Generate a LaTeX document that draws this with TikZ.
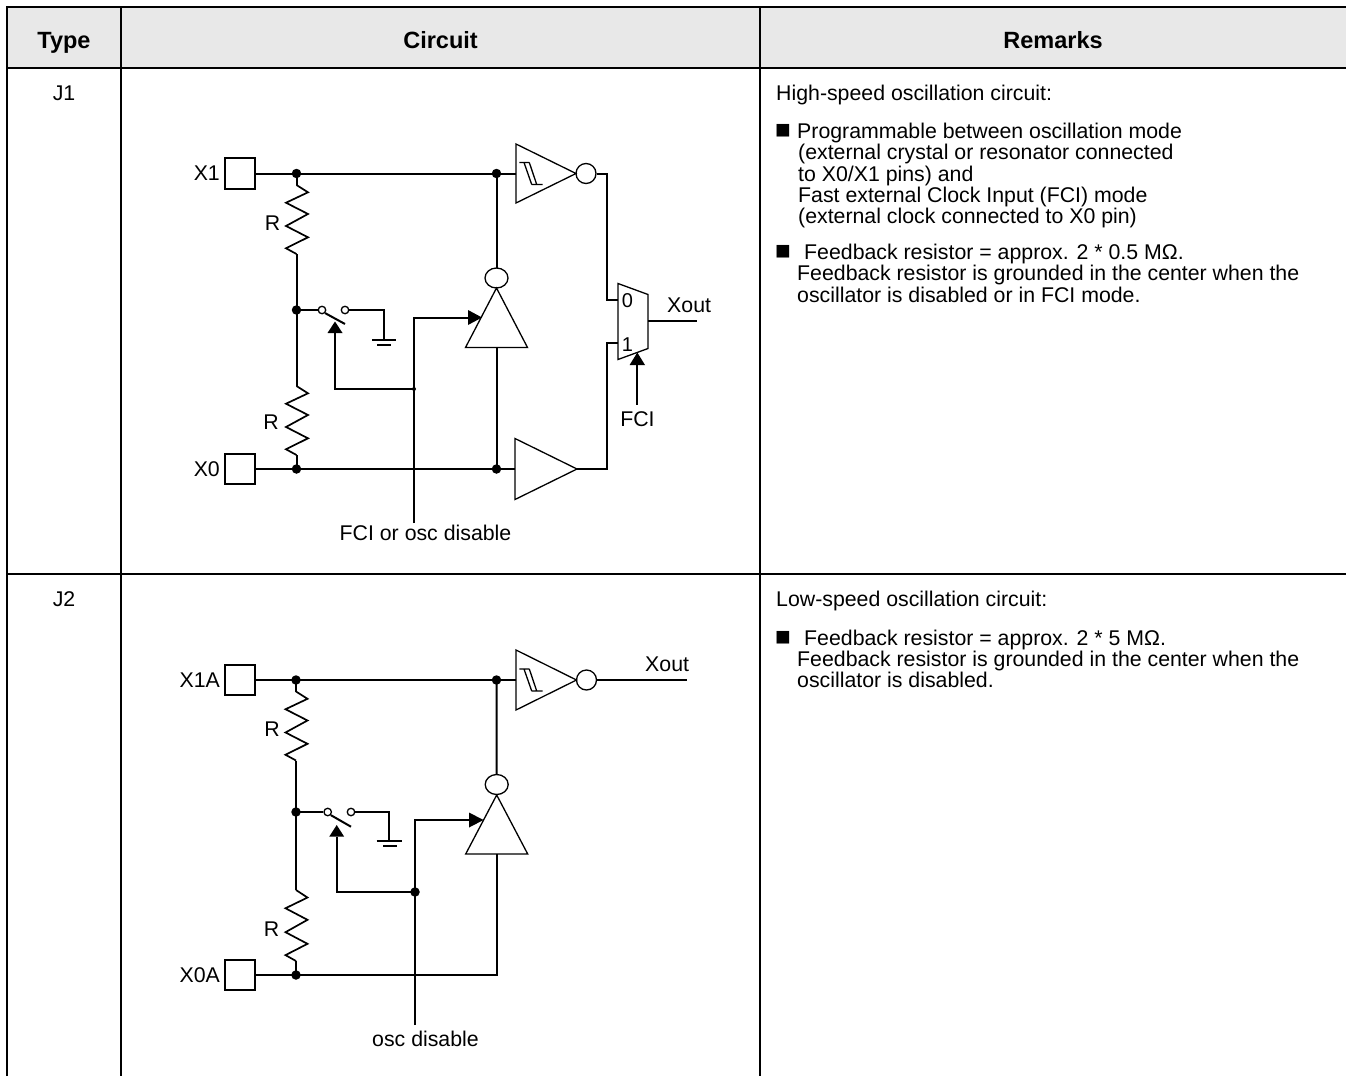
\documentclass[tikz,border=0pt]{standalone}
\usepackage{fontspec}
\setmainfont{Liberation Sans}
\newcommand\bodyfs{\fontsize{21.3}{21.5}\selectfont}
\newcommand\bulfs{\fontsize{26}{26}\selectfont}
\newcommand\headfs{\fontsize{23.5}{25}\selectfont\bfseries}
\newcommand\muxfs{\fontsize{20}{20}\selectfont}
\tikzset{
  tab/.style={line width=2.5pt},
  wire/.style={line width=2pt},
  gate/.style={line width=1.3pt},
  zig/.style={line width=1.7pt,line join=miter},
  dotn/.style={circle,fill,inner sep=0pt,minimum size=9.5pt},
  sdotn/.style={circle,fill,inner sep=0pt,minimum size=4pt},
  pad/.style={draw,line width=1.6pt,inner sep=0pt,minimum size=30.5pt},
  contact/.style={circle,draw,fill=white,line width=1.3pt,inner sep=0pt,minimum size=7.5pt},
  bub/.style={circle,draw,line width=1.3pt,inner sep=0pt,minimum size=20pt},
  txt/.style={font=\bodyfs,inner sep=0pt},
  bul/.style={font=\bulfs,inner sep=0pt},
  hdr/.style={font=\headfs,inner sep=0pt},
}
% resistor zigzag: x, ytop, length
\newcommand\resist[3]{%
  \draw[zig] (#1,#2) -- ({#1+11.5},{#2+0.106*#3}) -- ({#1-10.5},{#2+0.257*#3})
   -- ({#1+11.5},{#2+0.42*#3}) -- ({#1-10.5},{#2+0.594*#3})
   -- ({#1+11.5},{#2+0.758*#3}) -- ({#1-10.5},{#2+0.917*#3}) -- (#1,{#2+#3});}
% schmitt symbol at input x, wire y
\newcommand\schmitt[2]{%
  \draw[gate] ({#1+3.3},{#2-11}) -- ({#1+13.3},{#2-11})
   ({#1+8},{#2-11}) -- ({#1+15.7},{#2+11})
   ({#1+13.3},{#2-11}) -- ({#1+20.7},{#2+11})
   ({#1+15.7},{#2+11}) -- ({#1+26.7},{#2+11});}
\begin{document}
\begin{tikzpicture}[x=1pt,y=-1pt]
\useasboundingbox (0,0) rectangle (1346,1076);
% ---------------- table ----------------
\fill[gray!18] (7,7) rectangle (1346,68);
\draw[tab] (7,1076) -- (7,7) -- (1346,7);
\draw[tab] (7,68) -- (1346,68);
\draw[tab] (7,574) -- (1346,574);
\draw[tab] (121,7) -- (121,1076);
\draw[tab] (760,7) -- (760,1076);
\node[hdr,anchor=base] (hType) at (64,48.5) {Type};
\node[hdr,anchor=base] (hCirc) at (440.5,48.5) {Circuit};
\node[hdr,anchor=base] (hRem) at (1053,48.5) {Remarks};
\node[txt,anchor=base] (tJ1) at (64,100) {J1};
\node[txt,anchor=base] (tJ2) at (64,606) {J2};
% ---------------- remarks ----------------
\node[txt,anchor=base west] (r1a) at (776,100) {High-speed oscillation circuit:};
\node[bul,anchor=base west] (r1b) at (775,138.5) {■};
\node[txt,anchor=base west] (r1c) at (797,138.5) {Programmable between oscillation mode};
\node[txt,anchor=base west] (r1d) at (798,159.8) {(external crystal or resonator connected};
\node[txt,anchor=base west] (r1e) at (798,181) {to X0/X1 pins) and};
\node[txt,anchor=base west] (r1f) at (798,202.3) {Fast external Clock Input (FCI) mode};
\node[txt,anchor=base west] (r1g) at (798,223.5) {(external clock connected to X0 pin)};
\node[bul,anchor=base west] (r1h) at (775,259.5) {■};
\node[txt,anchor=base west] (r1i) at (804,259.5) {Feedback resistor = approx. 2 * 0.5 MΩ.};
\node[txt,anchor=base west] (r1j) at (797,280.8) {Feedback resistor is grounded in the center when the};
\node[txt,anchor=base west] (r1k) at (797,302) {oscillator is disabled or in FCI mode.};
\node[txt,anchor=base west] (r2a) at (776,606) {Low-speed oscillation circuit:};
\node[bul,anchor=base west] (r2b) at (775,645) {■};
\node[txt,anchor=base west] (r2c) at (804,645) {Feedback resistor = approx. 2 * 5 MΩ.};
\node[txt,anchor=base west] (r2d) at (797,666.3) {Feedback resistor is grounded in the center when the};
\node[txt,anchor=base west] (r2e) at (797,687.6) {oscillator is disabled.};
% ================= J1 circuit =================
\node[pad] (pX1) at (240,173.5) {};
\node[txt,anchor=east] (lX1) at (220,173.5) {X1};
\node[pad] (pX0) at (240,469) {};
\node[txt,anchor=east] (lX0) at (220,469) {X0};
\coordinate (aT) at (296.5,173.5);
\coordinate (gT) at (496.5,173.5);
\coordinate (aS) at (296.5,310);
\coordinate (aB) at (296.5,469);
\coordinate (gB) at (496.5,469);
\coordinate (fJ) at (414,389);
\draw[wire] (pX1.east) -- (516,173.5);
\draw[wire] (pX0.east) -- (515,469);
\draw[wire] (aT) -- (296.5,185);
\resist{296.5}{185}{69}
\draw[wire] (296.5,254) -- (aS) -- (296.5,386);
\resist{296.5}{386}{69}
\draw[wire] (296.5,455) -- (aB);
\node[txt,anchor=base] (lR1) at (272.5,230) {R};
\node[txt,anchor=base] (lR2) at (271,429.5) {R};
% switch
\node[contact] (c1) at (322,310) {};
\node[contact] (c2) at (345,310) {};
\draw[wire] (aS) -- (c1.west);
\draw[wire] (c2.east) -- (384,310) -- (384,340);
\draw[wire] (372,340) -- (396,340) (377,344.5) -- (391,344.5);
\draw[wire] (c1.south east) -- (345,324);
\fill (335,321.5) -- (342.5,333) -- (327.5,333) -- cycle;
\draw[wire] (335,333) -- (335,389) -- (fJ);
\draw[wire] (414,523) -- (414,317.5) -- (468,317.5);
\fill (468,310) -- (482,317.5) -- (468,325) -- cycle;
\node[txt,anchor=base] (lFCIosc) at (425.5,540) {FCI or osc disable};
% middle inverter
\draw[gate] (496.5,288) -- (527.5,347.5) -- (465.5,347.5) -- cycle;
\draw[gate] (496.5,278) ellipse[x radius=11.5,y radius=10];
\draw[wire] (gT) -- (496.5,268);
\draw[wire] (496.5,347.5) -- (gB);
% top schmitt inverter
\draw[gate] (516,144) -- (576,173.5) -- (516,203) -- cycle;
\schmitt{516}{173.5}
\node[bub] (bT) at (586,173.5) {};
\draw[wire] (bT.east) -- (606.5,173.5) -- (606.5,299.5) -- (618,299.5);
% lower buffer
\draw[gate] (515,438.5) -- (577,469) -- (515,499.5) -- cycle;
\draw[wire] (577,469) -- (606.5,469) -- (606.5,342.5) -- (618,342.5);
% mux
\draw[gate] (618,283.5) -- (648,294.5) -- (648,348.5) -- (618,359.5) -- cycle;
\node[font=\muxfs,inner sep=0pt] (m0) at (627.5,301) {0};
\node[font=\muxfs,inner sep=0pt] (m1) at (627.5,344.5) {1};
\draw[wire] (648,320.5) -- (697,320.5);
\node[txt,anchor=base west] (lXo1) at (667,312.5) {Xout};
\fill (637.3,352.5) -- (645,365) -- (629.6,365) -- cycle;
\draw[wire] (637.3,365) -- (637.3,405);
\node[txt,anchor=base] (lFCI) at (637.5,426.7) {FCI};
% dots
\node[dotn] at (aT) {};
\node[dotn] at (gT) {};
\node[dotn] at (aS) {};
\node[dotn] at (aB) {};
\node[dotn] at (gB) {};
\node[sdotn] at (fJ) {};
% ================= J2 circuit =================
\node[pad] (qX1) at (240,680) {};
\node[txt,anchor=east] (lX1A) at (220,680) {X1A};
\node[pad] (qX0) at (240,975) {};
\node[txt,anchor=east] (lX0A) at (220,975) {X0A};
\coordinate (bTp) at (296,680);
\coordinate (hT) at (496.5,680);
\coordinate (bS) at (296,812);
\coordinate (bB) at (296,975);
\coordinate (kJ) at (415,892);
\draw[wire] (qX1.east) -- (516,680);
\draw[wire] (bTp) -- (296,691.5);
\resist{296}{691.5}{69}
\draw[wire] (296,760.5) -- (bS) -- (296,890);
\resist{296}{890}{71}
\draw[wire] (296,961) -- (bB);
\node[txt,anchor=base] (lR3) at (272,736.5) {R};
\node[txt,anchor=base] (lR4) at (271.5,936) {R};
% switch
\node[contact] (e1) at (327.7,812) {};
\node[contact] (e2) at (351,812) {};
\draw[wire] (bS) -- (e1.west);
\draw[wire] (e2.east) -- (389.3,812) -- (389.3,841);
\draw[wire] (376.7,841) -- (402.3,841) (383.3,845.7) -- (396.7,845.7);
\draw[wire] (e1.south east) -- (351,826.7);
\fill (336.7,825) -- (344.2,836.7) -- (329.2,836.7) -- cycle;
\draw[wire] (336.7,836.7) -- (336.7,892) -- (kJ);
\draw[wire] (415,1025) -- (415,820) -- (469,820);
\fill (469,812.5) -- (483.5,820) -- (469,827.5) -- cycle;
\node[txt,anchor=base] (losc) at (425.5,1046.5) {osc disable};
% middle inverter
\draw[gate] (496.7,795) -- (527.7,854) -- (465.7,854) -- cycle;
\draw[gate] (496.7,784.5) ellipse[x radius=11.5,y radius=10];
\draw[wire] (hT) -- (496.7,774.5);
\draw[wire] (496.7,854) -- (496.7,975) -- (qX0.east);
% top schmitt inverter
\draw[gate] (516,650) -- (576.5,680) -- (516,710) -- cycle;
\schmitt{516}{680}
\node[bub] (bT2) at (586.5,680) {};
\draw[wire] (bT2.east) -- (687,680);
\node[txt,anchor=base west] (lXo2) at (645,671.7) {Xout};
% dots
\node[dotn] at (bTp) {};
\node[dotn] at (hT) {};
\node[dotn] at (bS) {};
\node[dotn] at (bB) {};
\node[dotn] at (kJ) {};
\end{tikzpicture}
\end{document}
